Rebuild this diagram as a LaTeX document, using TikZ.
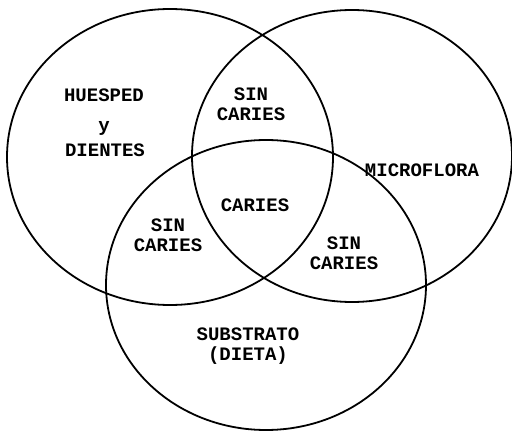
\documentclass[tikz,border=0pt]{standalone}
\usepackage{fontspec}
\setmonofont{Liberation Mono}
\usepackage{tikz}
\usetikzlibrary{positioning}

\begin{document}
\begin{tikzpicture}[x=1pt, y=-1pt, line width=1.8pt]

\tikzstyle{every node}=[font=\ttfamily\bfseries\fontsize{19}{20}\selectfont, align=center, inner sep=0pt]

\useasboundingbox (0,0) rectangle (512,433);

% the three sets
\draw (170,157) ellipse [x radius=163, y radius=148];
\draw (352,156) ellipse [x radius=160, y radius=146];
\draw (266,285) ellipse [x radius=160, y radius=145];

\node (Huesped) at (104,95) {HUESPED};
\node (Y) at (104,128) {y};
\node (Dientes) at (105,150) {DIENTES};
\node (Micro) at (422,170) {MICROFLORA};
\node (SinTop) at (251,104) {SIN\\CARIES};
\node (Caries) at (255,205) {CARIES};
\node (SinLeft) at (168,235) {SIN\\CARIES};
\node (SinRight) at (344,253) {SIN\\CARIES};
\node (Substrato) at (248,346) {SUBSTRATO\\(DIETA)};

\end{tikzpicture}
\end{document}
